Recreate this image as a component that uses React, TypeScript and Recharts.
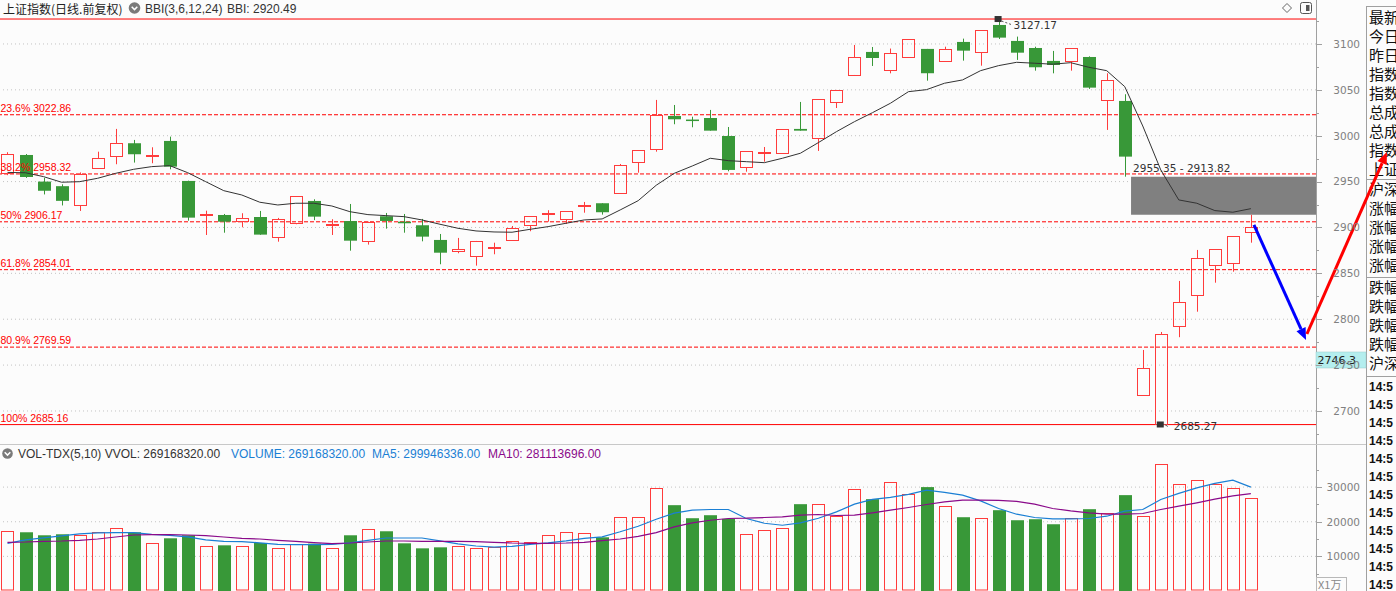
import React from "react";
import {
  Bar,
  ComposedChart,
  Line,
  ReferenceArea,
  ReferenceDot,
  ReferenceLine,
  XAxis,
  YAxis,
} from "recharts";

const BG = "#fcfcfc";
const RED = "#ff3c3c";
const GREEN = "#389838";
const FIB_RED = "#ff0000";
const GRID = "#c3c3c3";
const AXIS = "#a0a0a0";
const AXIS_TEXT = "#808080";
const MA5_BLUE = "#1a7fd4";
const MA10_PURPLE = "#8a0a8a";
const LATIN = '"Liberation Sans", Arial, sans-serif';
const NUM = '"DejaVu Sans", Verdana, sans-serif';
const CJK = '"Noto Sans CJK SC", sans-serif';

// daily candles
const opens = [
  2959, 2979, 2950, 2945, 2924, 2964.5, 2977.6, 2991.8, 2977.5, 2994.3,
  2950.7, 2913.5, 2913.6, 2907.4, 2911.4, 2889.3, 2904.6, 2928.9, 2903, 2907,
  2885.6, 2912.2, 2906.3, 2902.4, 2886.4, 2874, 2869.3, 2877.5, 2886.1, 2902.4,
  2914.5, 2908.9, 2923, 2926.4, 2937.3, 2971.1, 2985.2, 3021.5, 3017.6, 3019.3,
  2999.7, 2965.6, 2981, 2980.9, 3007.4, 2997.9, 3036.3, 3066.2, 3091.3, 3072,
  3085.5, 3094.6, 3081.8, 3102.2, 3091, 3120.7, 3103.3, 3095.6, 3081.5, 3081.8,
  3085.8, 3038.6, 3037.9, 2717.1, 2685.27, 2792.3, 2826.8, 2858.8, 2860.9, 2894.8,
];
const highs = [
  2982, 2980, 2954, 2947, 2960, 2982.6, 3007.4, 2995.4, 2987.4, 2999,
  2951, 2918.3, 2914.7, 2915.5, 2918, 2910.4, 2934, 2930.7, 2909, 2925.6,
  2906.3, 2915.8, 2914.7, 2909.3, 2892.9, 2888.6, 2885.3, 2883.4, 2901.6, 2912.2,
  2918.8, 2917.7, 2927.8, 2926.4, 2969.2, 2984.1, 3039, 3033.5, 3020.7, 3028.1,
  3009.5, 2983, 2987.7, 3007, 3036.8, 3040, 3049.9, 3098.9, 3096.7, 3095,
  3105.1, 3094.6, 3097, 3105.8, 3114.9, 3127.17, 3108, 3097, 3092.4, 3095.3,
  3086.5, 3068, 3045.2, 2766.5, 2786.1, 2841.7, 2875.5, 2876.2, 2890.4, 2913.82,
];
const lows = [
  2957, 2954, 2936, 2924, 2918, 2964.5, 2968.9, 2970.7, 2970, 2963.4,
  2907.4, 2891.8, 2894.3, 2900.2, 2892, 2884.5, 2903.5, 2908, 2891.8, 2874.7,
  2881.3, 2898.7, 2894.3, 2884.9, 2859.9, 2871.9, 2858.4, 2870.8, 2886.1, 2895.9,
  2906.3, 2903.8, 2916.1, 2914, 2937.3, 2959.7, 2982.6, 3012.5, 3009.2, 3005.5,
  2961.2, 2960.8, 2971.7, 2980.9, 3005.5, 2983.4, 3030.2, 3066.2, 3076, 3068,
  3085.5, 3060, 3080.7, 3081.8, 3076.3, 3105.4, 3082.6, 3070.9, 3068, 3070.9,
  3051, 3006.3, 2955.35, 2717.1, 2685.27, 2780.4, 2808.2, 2839.8, 2851.8, 2883.4,
];
const closes = [
  2980, 2955, 2940, 2929, 2958, 2975.4, 2991.8, 2979.8, 2978.7, 2966.3,
  2910.7, 2914.6, 2906.3, 2910.3, 2892.2, 2909.3, 2934, 2911.8, 2904, 2885.6,
  2906.3, 2907.1, 2904.6, 2890, 2872.5, 2876.2, 2885.3, 2878.5, 2899.1, 2912.2,
  2915.5, 2917.7, 2924.2, 2916.6, 2967.8, 2984.1, 3022.3, 3017.9, 3016.8, 3005.5,
  2962.7, 2983, 2982, 3007, 3005.5, 3040, 3049.9, 3085.8, 3084.7, 3090,
  3105.1, 3068.1, 3094.2, 3092.7, 3114.9, 3106.9, 3090.5, 3074.6, 3077.1, 3095.3,
  3052.4, 3060.4, 2977.2, 2746.5, 2783.6, 2818.5, 2866.4, 2876.2, 2890.4, 2900.9,
];
const bbiValues = [
  2960, 2959.6, 2955.4, 2949.3, 2949.9, 2953.6, 2959, 2963.4, 2966.3, 2967.4,
  2959.7, 2949.9, 2940.1, 2935.4, 2927.5, 2924.5, 2926.4, 2926.4, 2923.4, 2917.2,
  2914, 2912.9, 2911.8, 2908.2, 2903.5, 2899.1, 2896.2, 2895.1, 2894.8, 2898,
  2900.9, 2904.6, 2908.2, 2909.3, 2919.1, 2929.2, 2946, 2959, 2967, 2975.4,
  2972.8, 2971.7, 2970.6, 2975.4, 2980.9, 2992.5, 3004.4, 3015.3, 3025.1, 3035.4,
  3048, 3050.2, 3057.2, 3060.8, 3070.9, 3076.4, 3080, 3079, 3077.9, 3079.6,
  3074.6, 3070.9, 3053.5, 3010.6, 2962.7, 2930, 2926.4, 2918.4, 2916.6, 2920.49,
];

// volume in 万
const volumes = [
  17449, 16957, 16087, 16377, 16290, 16957, 18319, 16957, 13971, 15217,
  16087, 13101, 13188, 13101, 13855, 12521, 13681, 13681, 12521, 16087,
  18029, 17246, 13768, 12319, 12609, 13101, 12521, 12812, 14551, 14058,
  16290, 17159, 16870, 15507, 21507, 21507, 29623, 24783, 21014, 21884,
  20821, 16580, 17739, 18319, 25072, 24985, 21797, 29333, 26522, 31362,
  27884, 30000, 24406, 21304, 21217, 23333, 20435, 20725, 19275, 21217,
  23623, 22657, 27681, 21797, 36580, 30957, 31942, 30957, 29623, 26917,
];
const volMa5 = [
  13768, 14783, 15362, 15942, 16522, 16812, 16870, 16870, 16377, 16087,
  15652, 14783, 14348, 14261, 13913, 13478, 13391, 13391, 13478, 13913,
  14638, 15304, 15304, 15304, 14493, 13623, 12986, 12696, 12899, 13478,
  13913, 14493, 15217, 15652, 17101, 18696, 20725, 22464, 23333, 23536,
  23536, 20928, 19565, 18986, 19652, 21014, 22841, 25072, 26435, 27014,
  27884, 29130, 28464, 27681, 26029, 23826, 22174, 21217, 20812, 20812,
  20928, 21594, 23043, 23536, 26435, 28174, 29797, 31072, 32029, 29995,
];
const volMa10 = [
  14058, 14145, 14348, 14435, 14638, 15014, 15594, 16174, 16290, 16290,
  16174, 16000, 15594, 15217, 15014, 14638, 14348, 13971, 13681, 13855,
  14145, 14435, 14435, 14348, 14348, 14348, 14261, 14058, 13855, 13768,
  13768, 13855, 14058, 14551, 15014, 15797, 16870, 18493, 19652, 20435,
  20928, 21014, 21217, 21391, 21884, 22087, 21797, 21884, 22551, 23333,
  24116, 24985, 25739, 26232, 26232, 26145, 25855, 25072, 23826, 23130,
  22551, 22174, 22174, 22377, 23536, 24493, 25449, 26522, 27478, 28111,
];

const priceTicks = [3125, 3100, 3075, 3050, 3025, 3000, 2975, 2950, 2925, 2900, 2875, 2850, 2825, 2800, 2775, 2750, 2725, 2700, 2675];
const priceGrid = [3100, 3050, 3000, 2950, 2900, 2850, 2800, 2750, 2700];
const volTicks = [35000, 30000, 25000, 20000, 15000, 10000, 5000];
const volGrid = [30000, 20000, 10000];

const fibPcts = ["23.6%", "38.2%", "50%", "61.8%", "80.9%", "100%"];
const fibValues = [3022.86, 2958.32, 2906.17, 2854.01, 2769.59, 2685.16];

const topHigh = 3127.17;
const topHighIdx = 55;
const bottomLow = 2685.27;
const bottomLowIdx = 64;
const gapTop = 2955.35;
const gapBottom = 2913.82;
const gapStart = 62.35;
const cursorPrice = 2746.3;
const arrowDown = [{ x: 69.17, y: 2902.7 }, { x: 72.06, y: 2777.3 }];
const arrowUp = [{ x: 72.11, y: 2783.9 }, { x: 76.55, y: 2982.2 }];

const panelTop = ["最新", "今日", "昨日", "指数", "指数", "总成", "总成", "指数", "上证"];
const panelRise = ["沪深", "涨幅", "涨幅", "涨幅", "涨幅"];
const panelFall = ["跌幅", "跌幅", "跌幅", "跌幅", "沪深"];
const panelTimes = ["14:5", "14:5", "14:5", "14:5", "14:5", "14:5", "14:5", "14:5", "14:5", "14:5", "14:5", "14:5"];

const X_MIN = -0.4162;
const X_MAX = 72.614;

const candles = opens.map((o, i) => ({
  x: i,
  open: o,
  high: highs[i],
  low: lows[i],
  close: closes[i],
  bbi: bbiValues[i],
}));

const volData = volumes.map((v, i) => ({
  x: i,
  vol: v,
  ma5: volMa5[i],
  ma10: volMa10[i],
  up: closes[i] >= opens[i],
}));

function Candle(props: any) {
  const { x, y, width, height, payload } = props;
  if (payload == null || x == null || y == null) return null;
  const cx = Math.round(x + width / 2);
  const yHigh = Math.min(y, y + height);
  const yLow = Math.max(y, y + height);
  const span = payload.high - payload.low;
  const toY = (v: number) =>
    span === 0 ? yHigh : yHigh + ((payload.high - v) / span) * (yLow - yHigh);
  const up = payload.close >= payload.open;
  const top = toY(Math.max(payload.open, payload.close));
  const bot = toY(Math.min(payload.open, payload.close));
  const wx = cx + 0.5;
  if (up) {
    const t = Math.round(top) + 0.5;
    const b = Math.max(Math.round(bot) + 0.5, t + 1);
    return (
      <g>
        <line x1={wx} x2={wx} y1={yHigh} y2={t} stroke={RED} />
        <line x1={wx} x2={wx} y1={b} y2={yLow} stroke={RED} />
        <rect x={cx - 5.5} y={t} width={12} height={b - t} fill="none" stroke={RED} />
      </g>
    );
  }
  return (
    <g>
      <line x1={wx} x2={wx} y1={yHigh} y2={yLow} stroke={GREEN} />
      <rect x={cx - 6} y={top} width={13} height={Math.max(bot - top, 1.5)} fill={GREEN} />
    </g>
  );
}

function VolBar(props: any) {
  const { x, y, width, height, payload } = props;
  if (payload == null || x == null || y == null) return null;
  const cx = Math.round(x + width / 2);
  const top = Math.min(y, y + height);
  const bottom = Math.max(y, y + height);
  if (payload.up) {
    const t = Math.round(top) + 0.5;
    return <rect x={cx - 5.5} y={t} width={12} height={bottom - t - 1} fill="none" stroke={RED} />;
  }
  return <rect x={cx - 6} y={top} width={13} height={bottom - top} fill={GREEN} />;
}

function AxisTick(props: any) {
  const { x, y, payload, majorStep } = props;
  const v = payload?.value;
  const major = v % majorStep === 0;
  const yy = Math.round(y) + 0.5;
  return (
    <g>
      <line x1={x} x2={x + (major ? 6 : 3)} y1={yy} y2={yy} stroke={AXIS} />
      {major && (
        <text x={x + 44} y={y + 3.8} textAnchor="end" fontFamily={NUM} fontSize={10.5} fill={AXIS_TEXT}>
          {v}
        </text>
      )}
    </g>
  );
}

function Arrow(props: any) {
  const { x1, y1, x2, y2, color } = props;
  const ang = Math.atan2(y2 - y1, x2 - x1);
  const len = 12;
  const half = 5;
  const bx = x2 - len * Math.cos(ang);
  const by = y2 - len * Math.sin(ang);
  const px = -Math.sin(ang) * half;
  const py = Math.cos(ang) * half;
  return (
    <g>
      <line x1={x1} y1={y1} x2={bx} y2={by} stroke={color} strokeWidth={3} />
      <polygon points={`${x2},${y2} ${bx + px},${by + py} ${bx - px},${by - py}`} fill={color} />
    </g>
  );
}

function PriceChart() {
  return (
    <ComposedChart width={1396} height={444} data={candles} margin={{ top: 19, right: 30, bottom: 0, left: 0 }}>
      <XAxis dataKey="x" type="number" domain={[X_MIN, X_MAX]} allowDataOverflow hide />
      <YAxis
        orientation="right"
        width={50}
        domain={[2664, 3127.2]}
        allowDataOverflow
        ticks={priceTicks}
        interval={0}
        tickSize={0}
        tickMargin={0}
        axisLine={false}
        tickLine={false}
        tick={<AxisTick majorStep={50} />}
      />
      {priceGrid.map((v) => (
        <ReferenceLine key={`g${v}`} y={v} stroke={GRID} strokeDasharray="1 3" zIndex={-100} />
      ))}
      <ReferenceArea
        x1={gapStart}
        x2={X_MAX}
        y1={gapBottom}
        y2={gapTop}
        fill="#808080"
        fillOpacity={1}
        stroke="none"
        zIndex={-60}
      />
      {fibValues.map((v, i) => (
        <ReferenceLine
          key={`f${v}`}
          y={v}
          stroke={FIB_RED}
          strokeDasharray={i === fibValues.length - 1 ? undefined : "4 2"}
          zIndex={-50}
        />
      ))}
      <ReferenceLine y={topHigh} stroke={FIB_RED} zIndex={-50} />
      <Bar dataKey={(d: any) => [d.low, d.high]} barSize={14} shape={<Candle />} isAnimationActive={false} />
      <Line dataKey="bbi" type="linear" stroke="#333" strokeWidth={1} dot={false} activeDot={false} isAnimationActive={false} />
      {fibValues.map((v, i) => (
        <ReferenceDot
          key={`fl${v}`}
          x={X_MIN}
          y={v}
          ifOverflow="visible"
          zIndex={650}
          shape={(p: any) => (
            <text x={p.cx + 0.5} y={p.cy - 3} fontFamily={LATIN} fontSize={10.5} fill={FIB_RED}>
              {`${fibPcts[i]} ${v.toFixed(2)}`}
            </text>
          )}
        />
      ))}
      <ReferenceDot
        x={gapStart}
        y={gapTop}
        ifOverflow="visible"
        zIndex={650}
        shape={(p: any) => (
          <text x={p.cx + 2} y={p.cy - 4.5} fontFamily={NUM} fontSize={10.5} fill="#333">
            {`${gapTop.toFixed(2)} - ${gapBottom.toFixed(2)}`}
          </text>
        )}
      />
      <ReferenceDot
        x={topHighIdx}
        y={topHigh}
        ifOverflow="visible"
        zIndex={650}
        shape={(p: any) => (
          <g>
            <rect x={p.cx - 4} y={p.cy - 3} width={7} height={6} fill="#333" />
            <line x1={p.cx + 3} y1={p.cy + 2} x2={p.cx + 14} y2={p.cy + 6} stroke="#555" strokeDasharray="2 2" />
            <text x={p.cx + 15} y={p.cy + 10} fontFamily={NUM} fontSize={10.5} fill="#333">
              {topHigh.toFixed(2)}
            </text>
          </g>
        )}
      />
      <ReferenceDot
        x={bottomLowIdx}
        y={bottomLow}
        ifOverflow="visible"
        zIndex={650}
        shape={(p: any) => (
          <g>
            <rect x={p.cx - 4} y={p.cy - 3} width={7} height={6} fill="#333" />
            <line x1={p.cx + 4} y1={p.cy} x2={p.cx + 7} y2={p.cy + 2} stroke="#555" />
            <text x={p.cx + 13} y={p.cy + 5.5} fontFamily={NUM} fontSize={10.5} fill="#333">
              {bottomLow.toFixed(2)}
            </text>
          </g>
        )}
      />
      <ReferenceLine
        segment={arrowDown}
        ifOverflow="visible"
        zIndex={700}
        shape={(p: any) => <Arrow {...p} color="#0000ff" />}
      />
      <ReferenceLine
        segment={arrowUp}
        ifOverflow="visible"
        zIndex={700}
        shape={(p: any) => <Arrow {...p} color="#ff0000" />}
      />
      <ReferenceDot
        x={X_MAX}
        y={cursorPrice}
        ifOverflow="visible"
        zIndex={800}
        shape={(p: any) => (
          <g>
            <rect x={p.cx} y={p.cy - 16.5} width={50} height={16} fill="#b4eeee" stroke="#9cc" strokeWidth={0.5} />
            <text x={p.cx + 1.5} y={p.cy - 4.5} fontFamily={NUM} fontSize={11} fill="#222">
              {cursorPrice}
            </text>
          </g>
        )}
      />
    </ComposedChart>
  );
}

function VolumeChart() {
  return (
    <ComposedChart width={1396} height={131} data={volData} margin={{ top: 0, right: 30, bottom: 0, left: 0 }}>
      <XAxis dataKey="x" type="number" domain={[X_MIN, X_MAX]} allowDataOverflow hide />
      <YAxis
        orientation="right"
        width={50}
        domain={[0, 37826]}
        allowDataOverflow
        ticks={volTicks}
        interval={0}
        tickSize={0}
        tickMargin={0}
        axisLine={false}
        tickLine={false}
        tick={<AxisTick majorStep={10000} />}
      />
      {volGrid.map((v) => (
        <ReferenceLine key={`vg${v}`} y={v} stroke={GRID} strokeDasharray="1 3" zIndex={-100} />
      ))}
      <Bar dataKey="vol" barSize={14} shape={<VolBar />} isAnimationActive={false} />
      <Line dataKey="ma5" type="linear" stroke={MA5_BLUE} strokeWidth={1.2} dot={false} activeDot={false} isAnimationActive={false} />
      <Line dataKey="ma10" type="linear" stroke={MA10_PURPLE} strokeWidth={1.2} dot={false} activeDot={false} isAnimationActive={false} />
    </ComposedChart>
  );
}

function DropIcon({ cx, cy, r }: { cx: number; cy: number; r: number }) {
  return (
    <g>
      <circle cx={cx} cy={cy} r={r} fill="#7a7a7a" />
      <path d={`M${cx - 2.8},${cy - 1.2} L${cx},${cy + 1.6} L${cx + 2.8},${cy - 1.2}`} stroke="#fff" strokeWidth={1.5} fill="none" />
    </g>
  );
}

function Chrome() {
  return (
    <svg width={1396} height={591} style={{ position: "absolute", left: 0, top: 0 }}>
      <rect width={1396} height={591} fill={BG} />
      {/* main header */}
      <text x={3} y={13.5} fontFamily={CJK} fontSize={12} fill="#222">上证指数(日线.前复权)</text>
      <DropIcon cx={134.5} cy={8} r={5.8} />
      <text x={145} y={13.3} fontFamily={LATIN} fontSize={12} fill="#333">BBI(3,6,12,24)</text>
      <text x={227} y={13.3} fontFamily={LATIN} fontSize={12} fill="#333">BBI: 2920.49</text>
      <path d="M1287,3.5 L1291.5,8 L1287,12.5 L1282.5,8 Z" fill="none" stroke="#666" />
      <rect x={1300.5} y={2.5} width={11} height={11} rx={2} fill="none" stroke="#555" />
      <rect x={1306} y={5} width={3.5} height={6} fill="#555" />

      {/* axis line and panel separators */}
      <line x1={1316.5} x2={1316.5} y1={0} y2={591} stroke={AXIS} />
      <line x1={0} x2={1366} y1={444.5} y2={444.5} stroke="#c8c8c8" />

      {/* volume header */}
      <DropIcon cx={7.5} cy={453.5} r={5.3} />
      <text x={18} y={457.5} fontFamily={LATIN} fontSize={12} fill="#333">VOL-TDX(5,10) VVOL: 269168320.00</text>
      <text x={231} y={457.5} fontFamily={LATIN} fontSize={12} fill={MA5_BLUE}>VOLUME: 269168320.00</text>
      <text x={372} y={457.5} fontFamily={LATIN} fontSize={12} fill={MA5_BLUE}>MA5: 299946336.00</text>
      <text x={488} y={457.5} fontFamily={LATIN} fontSize={12} fill={MA10_PURPLE}>MA10: 281113696.00</text>

      {/* unit box */}
      <rect x={1316.5} y={577.5} width={30} height={14} fill="none" stroke="#b8b8b8" />
      <text x={1318} y={589} fontFamily={CJK} fontSize={11} fill="#888">X1万</text>

      {/* right info panel */}
      <line x1={1366.5} x2={1366.5} y1={6} y2={591} stroke={AXIS} />
      <line x1={1366} x2={1396} y1={6.5} y2={6.5} stroke={AXIS} />
      <line x1={1366} x2={1396} y1={179.5} y2={179.5} stroke={AXIS} />
      <line x1={1366} x2={1396} y1={277.5} y2={277.5} stroke={AXIS} />
      <line x1={1366} x2={1396} y1={376.5} y2={376.5} stroke={AXIS} />
      {panelTop.map((t, i) => (
        <text key={`pt${i}`} x={1369} y={17 + i * 19 + 5.5} fontFamily={CJK} fontSize={15} fill="#111">{t}</text>
      ))}
      {panelRise.map((t, i) => (
        <text key={`pr${i}`} x={1369} y={189 + i * 19 + 5.5} fontFamily={CJK} fontSize={15} fill="#111">{t}</text>
      ))}
      {panelFall.map((t, i) => (
        <text key={`pf${i}`} x={1369} y={287 + i * 19 + 5.5} fontFamily={CJK} fontSize={15} fill="#111">{t}</text>
      ))}
      {panelTimes.map((t, i) => (
        <text key={`tm${i}`} x={1369} y={387 + i * 18 + 4.3} fontFamily={LATIN} fontSize={12} fontWeight="bold" fill="#111">{t}</text>
      ))}
    </svg>
  );
}

export default function App() {
  return (
    <div style={{ position: "absolute", left: 0, top: 0, width: 1396, height: 591, overflow: "hidden", background: BG }}>
      <Chrome />
      <div style={{ position: "absolute", left: 0, top: 0 }}>
        <PriceChart />
      </div>
      <div style={{ position: "absolute", left: 0, top: 460 }}>
        <VolumeChart />
      </div>
    </div>
  );
}
